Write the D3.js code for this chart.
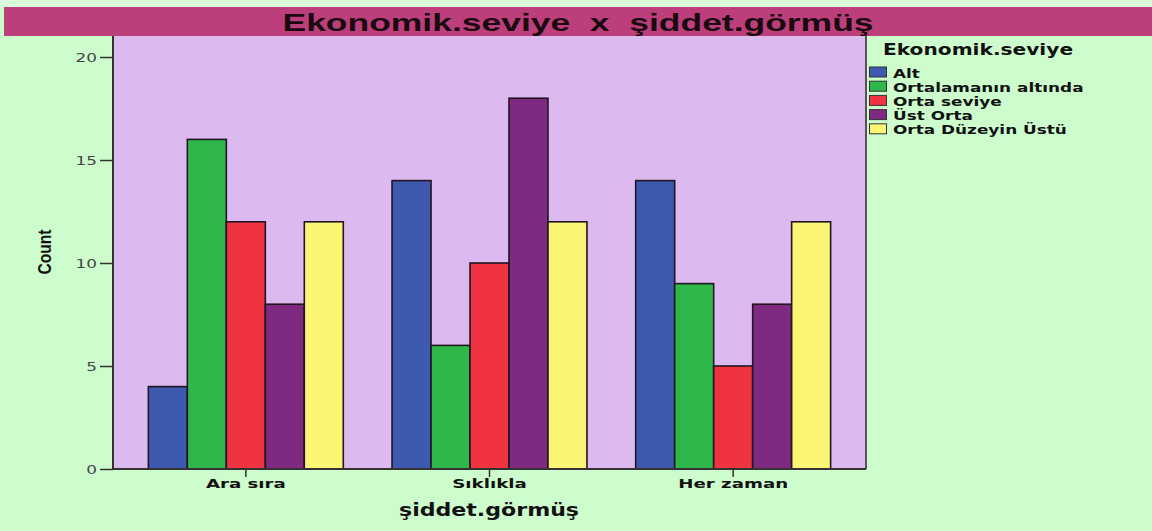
<!DOCTYPE html>
<html>
<head>
<meta charset="utf-8">
<script src="https://cdn.jsdelivr.net/npm/d3@7"></script>
<style>
  body { margin: 0; background: #cdfccd; }
  svg { display: block; }
</style>
</head>
<body>
<script>
var groups = ["Ara sıra", "Sıklıkla", "Her zaman"]
var seriesNames = ["Alt", "Ortalamanın altında", "Orta seviye", "Üst Orta", "Orta Düzeyin Üstü"]
var altVals = [4, 14, 14]
var ortalamaninAltindaVals = [16, 6, 9]
var ortaSeviyeVals = [12, 10, 5]
var ustOrtaVals = [8, 18, 8]
var ortaDuzeyinUstuVals = [12, 12, 12]
var yTicks = [0, 5, 10, 15, 20]
var colors = ["#3d5aae", "#2fb84a", "#ef3340", "#7e2a80", "#faf572"]

var seriesVals = [altVals, ortalamaninAltindaVals, ortaSeviyeVals, ustOrtaVals, ortaDuzeyinUstuVals]

var W = 1152, H = 531
var plot = {left: 113, right: 866, top: 36, bottom: 469}
var FONT = "DejaVu Sans, sans-serif"

var svg = d3.select("body")
            .append("svg")
            .attr("width", W)
            .attr("height", H)

// background
svg.append("rect").attr("width", W).attr("height", H).attr("fill", "#cdfccd")
svg.append("rect").attr("width", W).attr("height", 7).attr("fill", "#dcfddc")

// title bar
svg.append("rect")
   .attr("x", 4).attr("y", 7)
   .attr("width", W - 4).attr("height", 29)
   .attr("fill", "#bc3f7c")

svg.append("text")
   .attr("x", 578).attr("y", 31)
   .attr("text-anchor", "middle")
   .attr("font-family", "Liberation Sans, Arial, sans-serif")
   .attr("font-weight", "bold")
   .attr("font-size", "24px")
   .attr("fill", "#1a0a10")
   .attr("textLength", 591)
   .attr("lengthAdjust", "spacingAndGlyphs")
   .style("white-space", "pre")
   .text("Ekonomik.seviye  x  şiddet.görmüş")

// plot background
svg.append("rect")
   .attr("x", plot.left).attr("y", plot.top)
   .attr("width", plot.right - plot.left).attr("height", plot.bottom - plot.top)
   .attr("fill", "#dcbaf0")

var x0 = d3.scaleBand()
           .domain(groups)
           .range([124, 855])
           .paddingInner(0.2)
           .paddingOuter(0.1)

var x1 = d3.scaleBand()
           .domain(seriesNames)
           .range([0, x0.bandwidth()])

var y = d3.scaleLinear()
          .domain([0, 21.02])
          .range([plot.bottom, plot.top])

var color = d3.scaleOrdinal().domain(seriesNames).range(colors)

// bars
var g = svg.selectAll("g.grp")
   .data(groups).enter()
   .append("g")
   .attr("class", "grp")
   .attr("transform", function(d) { return "translate(" + x0(d) + ",0)" })

g.selectAll("rect")
   .data(function(d, gi) {
     return seriesNames.map(function(s, si) { return {s: s, v: seriesVals[si][gi]} })
   }).enter()
   .append("rect")
   .attr("x", function(d) { return x1(d.s) })
   .attr("y", function(d) { return y(d.v) })
   .attr("width", x1.bandwidth())
   .attr("height", function(d) { return y(0) - y(d.v) })
   .attr("fill", function(d) { return color(d.s) })
   .attr("stroke", "#221522")
   .attr("stroke-width", 1.6)

// right frame line
svg.append("line")
   .attr("x1", plot.right).attr("x2", plot.right)
   .attr("y1", plot.top).attr("y2", plot.bottom)
   .attr("stroke", "#5a505a").attr("stroke-width", 2)

// y axis
var yAxis = svg.append("g")
   .attr("transform", "translate(" + plot.left + ",0)")
   .call(d3.axisLeft(y).tickValues(yTicks).tickSize(13).tickSizeOuter(0))
yAxis.select(".domain").attr("stroke", "#333").attr("stroke-width", 2)
   .attr("d", "M0," + plot.bottom + "V" + plot.top)
yAxis.selectAll(".tick line").attr("stroke", "#333").attr("stroke-width", 1.5)
yAxis.selectAll(".tick text")
   .attr("x", null)
   .attr("transform", "translate(-16,0) scale(1.35,1)")
   .attr("font-family", FONT)
   .attr("font-size", "12.5px")
   .attr("fill", "#444")

// x axis
var xAxis = svg.append("g")
   .attr("transform", "translate(0," + plot.bottom + ")")
   .call(d3.axisBottom(x0).tickSize(8).tickSizeOuter(0))
xAxis.select(".domain").attr("stroke", "#333").attr("stroke-width", 2)
   .attr("d", "M" + plot.left + ",0H" + plot.right)
xAxis.selectAll(".tick line").attr("stroke", "#333").attr("stroke-width", 1.5)
xAxis.selectAll(".tick text")
   .attr("y", null).attr("dy", null)
   .attr("transform", "translate(0,19) scale(1.4,1)")
   .attr("font-family", FONT)
   .attr("font-weight", "bold")
   .attr("font-size", "13px")
   .attr("fill", "#111")

// axis titles
svg.append("text")
   .attr("transform", "translate(51,252) rotate(-90)")
   .attr("text-anchor", "middle")
   .attr("font-family", "Liberation Sans Narrow, Liberation Sans, sans-serif")
   .attr("font-weight", "bold")
   .attr("font-size", "19px")
   .attr("fill", "#111")
   .attr("textLength", 45)
   .attr("lengthAdjust", "spacingAndGlyphs")
   .text("Count")

svg.append("text")
   .attr("transform", "translate(489,516) scale(1.3,1)")
   .attr("text-anchor", "middle")
   .attr("font-family", FONT)
   .attr("font-weight", "bold")
   .attr("font-size", "17px")
   .attr("fill", "#111")
   .text("şiddet.görmüş")

// legend
var legend = svg.append("g").attr("transform", "translate(869,0)")
legend.append("text")
   .attr("transform", "translate(14,55) scale(1.3,1)")
   .attr("font-family", FONT)
   .attr("font-weight", "bold")
   .attr("font-size", "15.5px")
   .attr("fill", "#111")
   .text("Ekonomik.seviye")

var li = legend.selectAll("g.item")
   .data(seriesNames).enter()
   .append("g")
   .attr("class", "item")
   .attr("transform", function(d, i) { return "translate(0," + (67 + i * 14.2) + ")" })

li.append("rect")
   .attr("x", 0.5).attr("y", 0)
   .attr("width", 17).attr("height", 10)
   .attr("fill", function(d) { return color(d) })
   .attr("stroke", "#333").attr("stroke-width", 1)

li.append("text")
   .attr("transform", "translate(24,10.5) scale(1.3,1)")
   .attr("font-family", FONT)
   .attr("font-weight", "bold")
   .attr("font-size", "13px")
   .attr("fill", "#111")
   .text(function(d) { return d })
</script>
</body>
</html>
